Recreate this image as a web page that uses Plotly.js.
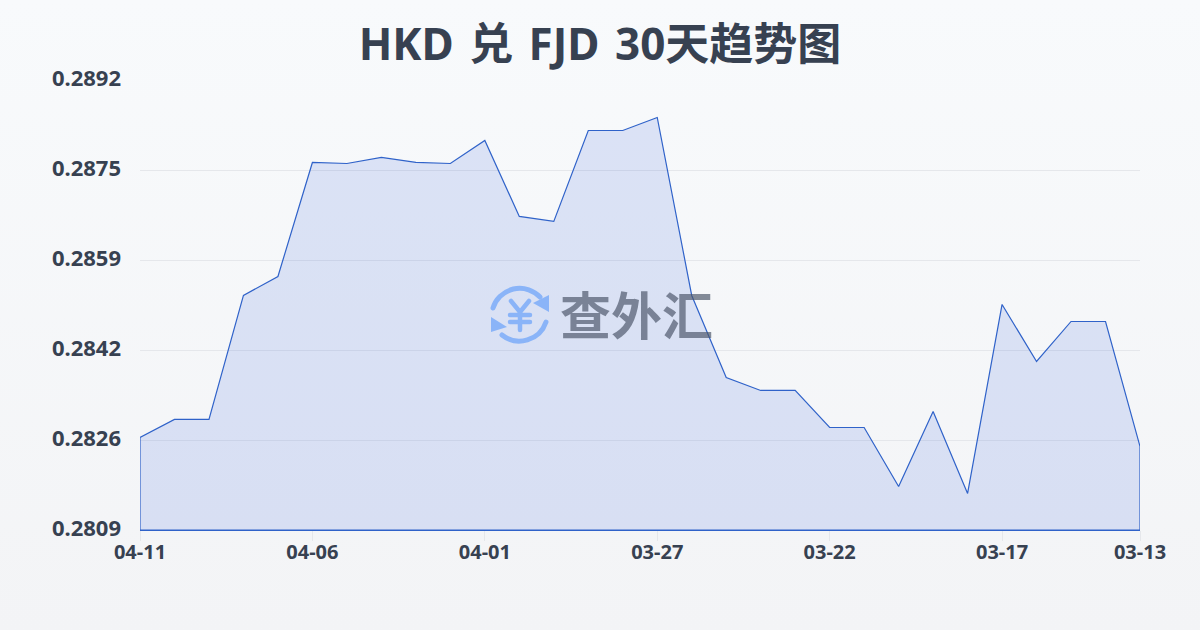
<!DOCTYPE html>
<html>
<head>
<meta charset="utf-8">
<script src="https://cdn.plot.ly/plotly-3.0.1.min.js"></script>
<style>
html,body{margin:0;padding:0;width:1200px;height:630px;overflow:hidden;background:linear-gradient(180deg,#f8fafc 0%,#f3f4f6 100%);}
#chart{width:1200px;height:630px;}
.gtitle{word-spacing:4px;}
</style>
</head>
<body>
<div id="chart"></div>
<script>
const dates = ["04-11","04-10","04-09","04-08","04-07","04-06","04-05","04-04","04-03","04-02","04-01","03-31","03-30","03-29","03-28","03-27","03-26","03-25","03-24","03-23","03-22","03-21","03-20","03-19","03-18","03-17","03-16","03-15","03-14","03-13"];
const rates = [0.282607,0.282939,0.282939,0.285226,0.285576,0.287679,0.287660,0.287771,0.287679,0.287660,0.288085,0.286683,0.286591,0.288269,0.288269,0.288509,0.285226,0.283713,0.283474,0.283474,0.282791,0.282791,0.281703,0.283086,0.281574,0.285060,0.284008,0.284746,0.284746,0.282441];
const xTicks = ["04-11","04-06","04-01","03-27","03-22","03-17","03-13"];
const yTickVals = [0.2809,0.28256,0.28422,0.28588,0.28754,0.2892];
const yTickText = ["0.2809","0.2826","0.2842","0.2859","0.2875","0.2892"];
const titleText = "HKD 兑 FJD 30天趋势图";
const watermarkText = "查外汇";
const axisMin = 0.2809, axisMax = 0.2892;

const logo = `<svg xmlns="http://www.w3.org/2000/svg" width="64" height="64" viewBox="0 0 64 64">
<g fill="none" stroke="#8ab4f8" stroke-width="5" stroke-linecap="round" stroke-linejoin="round">
<path d="M5 24 A28 28 0 0 1 52 13"/>
<path d="M58 38 A28 28 0 0 1 14 51"/>
<path d="M23 17 L32 28 L41 17 M32 28 V46 M22 31 H42 M22 38 H42" stroke-width="4.5"/>
</g>
<path d="M61 11 L61 28 L45 19 Z M3 33 L3 48 L19 43 Z" fill="#8ab4f8"/>
</svg>`;

const trace = {
  type: "scatter", mode: "lines",
  x: dates.concat([dates[dates.length-1], dates[0], dates[0]]),
  y: rates.concat([axisMin, axisMin, rates[0]]),
  fill: "toself",
  fillcolor: "rgba(29,78,216,0.13)",
  line: {color: "#2f62c9", width: 1.2, shape: "linear"},
  cliponaxis: false,
  hoverinfo: "skip"
};

const font = '"Noto Sans","Noto Sans CJK SC",sans-serif';
const layout = {
  width: 1200, height: 630,
  paper_bgcolor: "rgba(0,0,0,0)", plot_bgcolor: "rgba(0,0,0,0)",
  margin: {l: 140, r: 60, t: 80, b: 100},
  showlegend: false,
  title: {text: titleText, font: {family: font, size: 44, weight: 700, color: "#374151"}, x: 0.5, xanchor: "center", y: 0.93, yanchor: "middle"},
  xaxis: {
    type: "category", categoryorder: "array", categoryarray: dates,
    range: [0, dates.length-1], tickmode: "array", tickvals: xTicks, ticktext: xTicks,
    showgrid: false, zeroline: false, showline: true, linecolor: "#2f62c9", linewidth: 1,
    ticks: "outside", ticklen: 10, tickwidth: 1, tickcolor: "#e5e7eb", ticklabelstandoff: -6,
    tickfont: {family: font, size: 20, weight: 700, color: "#374151"}, tickangle: 0
  },
  yaxis: {
    range: [axisMin, axisMax], tickmode: "array", tickvals: yTickVals, ticktext: yTickText,
    showgrid: true, gridcolor: "#e5e7eb", gridwidth: 1, zeroline: false, showline: false,
    ticks: "", ticklen: 0, ticklabelstandoff: 18, ticklabelshift: -2,
    tickfont: {family: font, size: 22, weight: 700, color: "#374151"}
  },
  images: [{
    source: "data:image/svg+xml;charset=utf-8," + encodeURIComponent(logo),
    xref: "paper", yref: "paper", xanchor: "left", yanchor: "top",
    x: (488-140)/1000, y: (530-284)/450, sizex: 64/1000, sizey: 64/450, sizing: "stretch", layer: "above"
  }],
  annotations: [{
    text: watermarkText, xref: "paper", yref: "paper", showarrow: false,
    x: (636-140)/1000, y: (530-313)/450, xanchor: "center", yanchor: "middle",
    font: {family: '"Noto Sans CJK SC",sans-serif', size: 51, weight: 700, color: "rgba(75,85,105,0.68)"}
  }]
};
Plotly.newPlot("chart", [trace], layout, {displayModeBar: false, staticPlot: true});
</script>
</body>
</html>
